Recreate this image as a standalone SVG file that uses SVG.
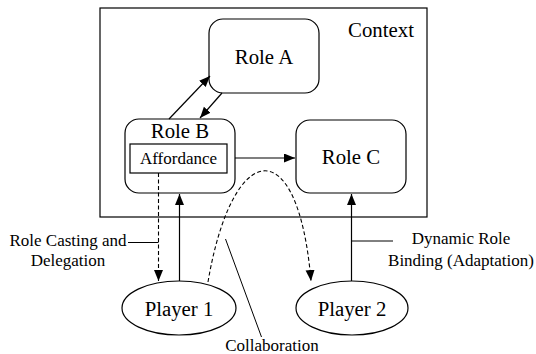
<svg xmlns="http://www.w3.org/2000/svg" width="536" height="354" viewBox="0 0 536 354">
<style>
text{font-family:"Liberation Serif","Times New Roman",serif;fill:#000}
.big{font-size:20.8px}
.mid{font-size:17px}
.box{fill:#fff;stroke:#000;stroke-width:1.2}
.ln{fill:none;stroke:#000;stroke-width:1.2}
.dash{fill:none;stroke:#000;stroke-width:1.1;stroke-dasharray:4,2.5}
.thin{fill:none;stroke:#000;stroke-width:1}
</style>
<defs>
<marker id="ah" markerUnits="userSpaceOnUse" markerWidth="12" markerHeight="10" refX="11" refY="4.5" orient="auto">
<path d="M0,0 L11,4.5 L0,9 z" fill="#000"/>
</marker>
</defs>
<rect width="536" height="354" fill="#fff"/>
<g id="context">
<rect x="100" y="8" width="327" height="209" class="box"/>
<text x="381" y="37" class="big" text-anchor="middle">Context</text>
</g>
<g id="roleA">
<rect x="209" y="19" width="110" height="74" rx="14" class="box"/>
<text x="264" y="64" class="big" text-anchor="middle">Role A</text>
</g>
<g id="roleB">
<rect x="125" y="119" width="110" height="74" rx="14" class="box"/>
<text x="180" y="138" class="big" text-anchor="middle">Role B</text>
<g id="affordance">
<rect x="130" y="144" width="97" height="29" class="box"/>
<text x="178.5" y="164" class="mid" text-anchor="middle">Affordance</text>
</g>
</g>
<g id="roleC">
<rect x="296" y="120" width="110" height="73" rx="14" class="box"/>
<text x="351" y="164" class="big" text-anchor="middle">Role C</text>
</g>
<g id="player1">
<ellipse cx="179" cy="308" rx="57" ry="27" class="box"/>
<text x="179" y="316" class="big" text-anchor="middle">Player 1</text>
</g>
<g id="player2">
<ellipse cx="352" cy="308" rx="56" ry="27" class="box"/>
<text x="352" y="316" class="big" text-anchor="middle">Player 2</text>
</g>
<g id="connectors">
<line x1="169" y1="119" x2="210" y2="76" class="ln" marker-end="url(#ah)"/>
<line x1="222" y1="93" x2="200" y2="118" class="ln" marker-end="url(#ah)"/>
<line x1="235" y1="158" x2="295" y2="158" class="ln" marker-end="url(#ah)"/>
<line x1="158.5" y1="173" x2="158.5" y2="281" class="dash" marker-end="url(#ah)"/>
<line x1="179.5" y1="281" x2="179.5" y2="194" class="ln" marker-end="url(#ah)"/>
<line x1="351.5" y1="281" x2="351.5" y2="194" class="ln" marker-end="url(#ah)"/>
<path d="M208,282 C232,140 298,128 311,281" class="dash" marker-end="url(#ah)"/>
<line x1="128" y1="242.5" x2="158.5" y2="242.5" class="thin"/>
<line x1="351.5" y1="241" x2="393" y2="241" class="thin"/>
<line x1="225.5" y1="239" x2="261.5" y2="337" class="thin"/>
</g>
<g id="labels">
<text x="68" y="246" class="mid" text-anchor="middle">Role Casting and</text>
<text x="68" y="266" class="mid" text-anchor="middle">Delegation</text>
<text x="461" y="244" class="mid" text-anchor="middle">Dynamic Role</text>
<text x="461" y="266" class="mid" text-anchor="middle">Binding (Adaptation)</text>
<text x="272" y="351" class="mid" text-anchor="middle">Collaboration</text>
</g>
</svg>
